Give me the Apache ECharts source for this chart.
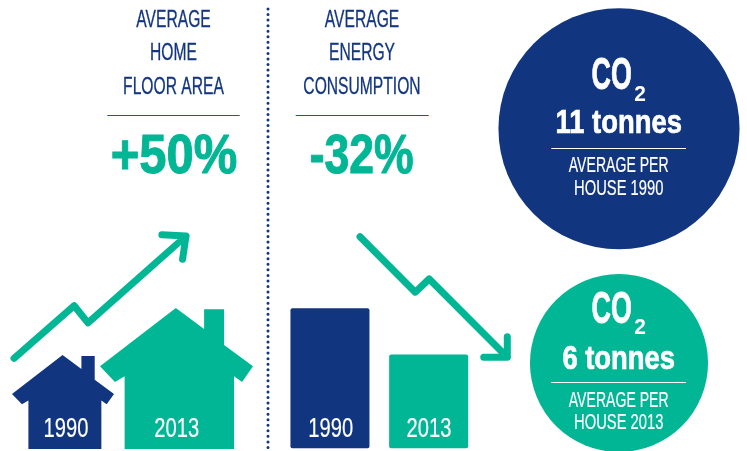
<!DOCTYPE html>
<html>
<head>
<meta charset="utf-8">
<script src="https://cdn.jsdelivr.net/npm/echarts@6/dist/echarts.min.js"></script>
<style>
  html, body { margin: 0; padding: 0; background: #fff; }
  #chart { width: 747px; height: 451px; }
</style>
</head>
<body>
<div id="chart"></div>
<script>
// Data
const years = ['1990', '2013'];
const floorArea = [100, 150];       // index, 1990 = 100 (+50%)
const energyUse = [100, 67];        // index, 1990 = 100, as drawn (labelled -32%)
const co2Tonnes = [11, 6];          // circle area follows tonnes
const floorHeading = ['AVERAGE', 'HOME', 'FLOOR AREA'];
const energyHeading = ['AVERAGE', 'ENERGY', 'CONSUMPTION'];
const floorChange = '+50%';
const energyChange = '-32%';
const co2Labels = ['11 tonnes', '6 tonnes'];
const co2Notes = [['AVERAGE PER', 'HOUSE 1990'], ['AVERAGE PER', 'HOUSE 2013']];
// Trend arrows, on 0-100 axes: shaft with its kink, then the two barbs of the head
const upTrendX = [0, 35, 43, 100, 86, 100, 98];
const upTrendY = [0, 43, 29, 100, 101, 100, 81];
const downTrendX = [0, 37.5, 47, 100, 84, 100, 100];
const downTrendY = [100, 54, 65, 0, 0, 0, 17];

// Colors
const navy = '#12357F';
const green = '#00B695';
const font = '"Liberation Sans", sans-serif'; // squeezed with scaleX, no condensed face installed

const housePath = 'path://M528 265L613 328L613 269L673 269L673 376L760 440L727 487L703 470L703 688L374 688L374 470L345 487L300 440Z';

function zip(xs, ys) {
  return xs.map((x, i) => [x, ys[i]]);
}

function hiddenAxis(gridIndex, extra) {
  return Object.assign({ gridIndex, show: false }, extra);
}

// thicken: extra stroke, the squeezed glyphs come out lighter than the original face
function text(str, x, y, size, color, scaleX, bold, thicken) {
  return {
    type: 'text',
    x, y,
    z: 100,
    scaleX,
    silent: true,
    style: {
      text: str,
      fill: color,
      stroke: thicken ? color : null,
      lineWidth: thicken || 0,
      font: (bold ? 'bold ' : '') + size + 'px ' + font,
      textAlign: 'center',
      textVerticalAlign: 'middle'
    }
  };
}

function rule(x1, x2, y, color) {
  return {
    type: 'line',
    z: 100,
    silent: true,
    shape: { x1, y1: y, x2, y2: y },
    style: { stroke: color, lineWidth: 1 }
  };
}

function co2Text(i, coY, subY, amountY, ruleY, noteY) {
  return [
    text('CO', 611.7, coY, 44, '#fff', 0.61, true, 0.8),
    text('2', 640, subY, 22, '#fff', 0.95, true),
    text(co2Labels[i], 618.7, amountY, 33, '#fff', 0.83, true, 0.7),
    rule(551.3, 686, ruleY, '#fff'),
    text(co2Notes[i][0], 618.7, noteY[0], 22, '#fff', 0.64, false, 0.2),
    text(co2Notes[i][1], 618.7, noteY[1], 22, '#fff', 0.67, false, 0.2)
  ];
}

const graphics = [
  // dotted divider
  {
    type: 'line',
    silent: true,
    shape: { x1: 268, y1: 9, x2: 268, y2: 451 },
    style: { stroke: navy, lineWidth: 3, lineDash: [0, 5.55], lineCap: 'round' }
  },
  rule(107.3, 239.7, 115.5, '#2F4E93'),
  rule(295.7, 428.7, 115.5, '#2F4E93'),
  text(floorChange, 174, 158, 55, green, 0.89, true, 1),
  text(energyChange, 361.7, 158, 55, green, 0.81, true, 1),
  text(years[0], 66, 429, 28, '#fff', 0.72, false, 0.2),
  text(years[1], 176.7, 429, 28, '#fff', 0.72, false, 0.2),
  text(years[0], 330.7, 429, 28, '#fff', 0.72, false, 0.2),
  text(years[1], 429, 429, 28, '#fff', 0.72, false, 0.2)
];
[20.5, 54, 87.5].forEach((y, i) => {
  graphics.push(text(floorHeading[i], 173.5, y, 23, navy, 0.68, false, 0.3));
  graphics.push(text(energyHeading[i], 362, y, 23, navy, 0.68, false, 0.3));
});
graphics.push(...co2Text(0, 76.7, 95, 124, 148.5, [166, 189.3]));
graphics.push(...co2Text(1, 310.7, 328, 360, 382.5, [401, 423]));

const option = {
  backgroundColor: '#fff',
  animation: false,
  graphic: graphics,
  grid: [
    { left: 6.25, width: 227, bottom: 2, height: 150.4 },      // houses
    { left: 280.6, width: 197.4, bottom: 2.7, height: 140 },   // bars
    { left: 530, width: 178, top: 11.55, height: 468.6, outerBoundsMode: 'none' }, // CO2 circles
    { left: 14, width: 172, top: 236, height: 122.3 },         // up arrow
    { left: 360, width: 147.3, top: 236.7, height: 120.6 }     // down arrow
  ],
  xAxis: [
    hiddenAxis(0, { type: 'category', data: years }),
    hiddenAxis(1, { type: 'category', data: years }),
    hiddenAxis(2, { type: 'category', data: ['CO2'] }),
    hiddenAxis(3, { type: 'value', min: 0, max: 100 }),
    hiddenAxis(4, { type: 'value', min: 0, max: 100 })
  ],
  yAxis: [
    hiddenAxis(0, { type: 'value', min: 0, max: 160 }),
    hiddenAxis(1, { type: 'value', min: 0, max: 100 }),
    hiddenAxis(2, { type: 'category', data: years, inverse: true }),
    hiddenAxis(3, { type: 'value', min: 0, max: 100 }),
    hiddenAxis(4, { type: 'value', min: 0, max: 100 })
  ],
  series: [
    {
      type: 'pictorialBar',
      xAxisIndex: 0,
      yAxisIndex: 0,
      symbol: housePath,
      symbolPosition: 'start',
      data: floorArea.map((v, i) => ({
        value: v,
        symbolSize: [v * 1.02, '100%'],
        itemStyle: { color: i === 0 ? navy : green }
      }))
    },
    {
      type: 'bar',
      xAxisIndex: 1,
      yAxisIndex: 1,
      barWidth: 79,
      data: energyUse.map((v, i) => ({
        value: v,
        itemStyle: { color: i === 0 ? navy : green, borderRadius: 2 }
      }))
    },
    {
      type: 'scatter',
      xAxisIndex: 2,
      yAxisIndex: 2,
      clip: false,
      symbolSize: d => Math.sqrt(d[2]) * 72.7,
      data: co2Tonnes.map((v, i) => ({
        value: [0, i, v],
        itemStyle: { color: i === 0 ? navy : green, opacity: 1 }
      }))
    },
    {
      type: 'line',
      xAxisIndex: 3,
      yAxisIndex: 3,
      clip: false,
      showSymbol: false,
      lineStyle: { color: green, width: 7, cap: 'round', join: 'round' },
      data: zip(upTrendX, upTrendY)
    },
    {
      type: 'line',
      xAxisIndex: 4,
      yAxisIndex: 4,
      clip: false,
      showSymbol: false,
      lineStyle: { color: green, width: 7, cap: 'round', join: 'round' },
      data: zip(downTrendX, downTrendY)
    }
  ]
};

const myChart = echarts.init(document.getElementById('chart'));
myChart.setOption(option);
window.addEventListener('resize', () => myChart.resize());
</script>
</body>
</html>
